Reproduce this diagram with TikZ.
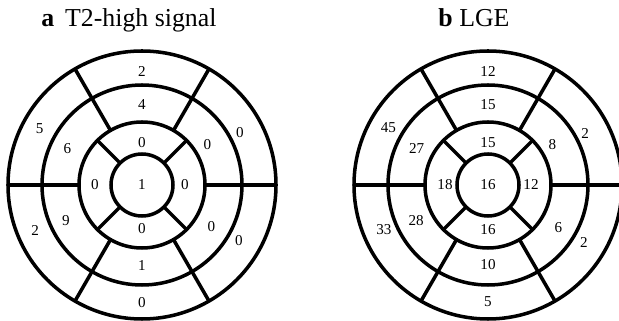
\documentclass[tikz,border=0pt]{standalone}
\usepackage{fontspec}
\setmainfont{Liberation Serif}

\begin{document}
\begin{tikzpicture}[
  x=0.02cm, y=0.02cm,
  % Ring and divider styles
  ring/.style={
    draw,
    line width=2pt
  },
  divider/.style={
    draw,
    line width=2pt
  },
  % Text styles
  paneltitle/.style={
    anchor=base,
    inner sep=0pt,
    font=\fontsize{14.7}{17}\selectfont
  },
  segval/.style={
    inner sep=0pt,
    font=\fontsize{8.6}{10}\selectfont
  }
]
\useasboundingbox (0,0) rectangle (619,321);
\clip (0,0) rectangle (619,321);

% -----------------------------------------------
% PANEL A: T2-HIGH SIGNAL
% -----------------------------------------------
\coordinate (t2C) at (142,136);
\node[paneltitle] (t2Title) at (129,294) {\textbf{a}\, T2-high signal};

\draw[ring] (t2C) circle[radius=134];
\draw[ring] (t2C) circle[radius=100];
\draw[ring] (t2C) circle[radius=63];
\draw[ring] (t2C) circle[radius=31];

% basal and mid dividers
\draw[divider] ([shift={(0:63)}]t2C) -- ([shift={(0:134)}]t2C);
\draw[divider] ([shift={(60:63)}]t2C) -- ([shift={(60:134)}]t2C);
\draw[divider] ([shift={(120:63)}]t2C) -- ([shift={(120:134)}]t2C);
\draw[divider] ([shift={(180:63)}]t2C) -- ([shift={(180:134)}]t2C);
\draw[divider] ([shift={(240:63)}]t2C) -- ([shift={(240:134)}]t2C);
\draw[divider] ([shift={(300:63)}]t2C) -- ([shift={(300:134)}]t2C);

% apical dividers
\draw[divider] ([shift={(45:31)}]t2C) -- ([shift={(45:63)}]t2C);
\draw[divider] ([shift={(135:31)}]t2C) -- ([shift={(135:63)}]t2C);
\draw[divider] ([shift={(225:31)}]t2C) -- ([shift={(225:63)}]t2C);
\draw[divider] ([shift={(315:31)}]t2C) -- ([shift={(315:63)}]t2C);

% basal values
\node[segval] (t2Ant) at ([shift={(90:113)}]t2C) {2};
\node[segval] (t2AntSep) at ([shift={(151:117)}]t2C) {5};
\node[segval] (t2InfSep) at ([shift={(203:116)}]t2C) {2};
\node[segval] (t2Inf) at ([shift={(270:118)}]t2C) {0};
\node[segval] (t2InfLat) at ([shift={(330:112)}]t2C) {0};
\node[segval] (t2AntLat) at ([shift={(28:111)}]t2C) {0};

% mid values
\node[segval] (t2MidAnt) at ([shift={(90:80)}]t2C) {4};
\node[segval] (t2MidAntSep) at ([shift={(154:83)}]t2C) {6};
\node[segval] (t2MidInfSep) at ([shift={(205:84)}]t2C) {9};
\node[segval] (t2MidInf) at ([shift={(270:81)}]t2C) {1};
\node[segval] (t2MidInfLat) at ([shift={(329:81)}]t2C) {0};
\node[segval] (t2MidAntLat) at ([shift={(32:77)}]t2C) {0};

% apical values
\node[segval] (t2ApAnt) at ([shift={(90:42)}]t2C) {0};
\node[segval] (t2ApSep) at ([shift={(180:47)}]t2C) {0};
\node[segval] (t2ApInf) at ([shift={(270:44)}]t2C) {0};
\node[segval] (t2ApLat) at ([shift={(0:43)}]t2C) {0};
\node[segval] (t2Apex) at (t2C) {1};

% -----------------------------------------------
% PANEL B: LGE
% -----------------------------------------------
\coordinate (lgeC) at (488,136);
\node[paneltitle] (lgeTitle) at (474,294) {\textbf{b} LGE};

\draw[ring] (lgeC) circle[radius=134];
\draw[ring] (lgeC) circle[radius=100];
\draw[ring] (lgeC) circle[radius=63];
\draw[ring] (lgeC) circle[radius=31];

% basal and mid dividers
\draw[divider] ([shift={(0:63)}]lgeC) -- ([shift={(0:140)}]lgeC);
\draw[divider] ([shift={(60:63)}]lgeC) -- ([shift={(60:134)}]lgeC);
\draw[divider] ([shift={(120:63)}]lgeC) -- ([shift={(120:134)}]lgeC);
\draw[divider] ([shift={(180:63)}]lgeC) -- ([shift={(180:134)}]lgeC);
\draw[divider] ([shift={(240:63)}]lgeC) -- ([shift={(240:134)}]lgeC);
\draw[divider] ([shift={(300:63)}]lgeC) -- ([shift={(300:134)}]lgeC);

% apical dividers
\draw[divider] ([shift={(45:31)}]lgeC) -- ([shift={(45:63)}]lgeC);
\draw[divider] ([shift={(135:31)}]lgeC) -- ([shift={(135:63)}]lgeC);
\draw[divider] ([shift={(225:31)}]lgeC) -- ([shift={(225:63)}]lgeC);
\draw[divider] ([shift={(315:31)}]lgeC) -- ([shift={(315:63)}]lgeC);

% basal values
\node[segval] (lgeAnt) at ([shift={(90:113)}]lgeC) {12};
\node[segval] (lgeAntSep) at ([shift={(150:115)}]lgeC) {45};
\node[segval] (lgeInfSep) at ([shift={(203:113)}]lgeC) {33};
\node[segval] (lgeInf) at ([shift={(270:117)}]lgeC) {5};
\node[segval] (lgeInfLat) at ([shift={(329:112)}]lgeC) {2};
\node[segval] (lgeAntLat) at ([shift={(28:110)}]lgeC) {2};

% mid values
\node[segval] (lgeMidAnt) at ([shift={(90:80)}]lgeC) {15};
\node[segval] (lgeMidAntSep) at ([shift={(153:80)}]lgeC) {27};
\node[segval] (lgeMidInfSep) at ([shift={(206:80)}]lgeC) {28};
\node[segval] (lgeMidInf) at ([shift={(270:80)}]lgeC) {10};
\node[segval] (lgeMidInfLat) at ([shift={(329:82)}]lgeC) {6};
\node[segval] (lgeMidAntLat) at ([shift={(32:76)}]lgeC) {8};

% apical values
\node[segval] (lgeApAnt) at ([shift={(90:42)}]lgeC) {15};
\node[segval] (lgeApSep) at ([shift={(180:43)}]lgeC) {18};
\node[segval] (lgeApInf) at ([shift={(270:45)}]lgeC) {16};
\node[segval] (lgeApLat) at ([shift={(0:43)}]lgeC) {12};
\node[segval] (lgeApex) at (lgeC) {16};

\end{tikzpicture}
\end{document}
